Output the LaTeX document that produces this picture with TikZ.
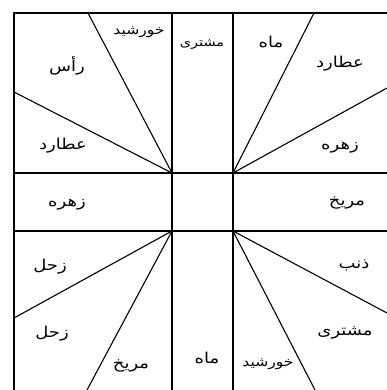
\documentclass[tikz,border=0pt]{standalone}
\usepackage{fontspec}
\newfontfamily\arabicfont[Script=Arabic, FakeStretch=1.2]{DejaVu Sans}
\TeXXeTstate=1
\newcommand\fatext[1]{\beginR #1\endR}
\begin{document}
\begin{tikzpicture}[x=1pt,y=-1pt,
  grid/.style={line width=1.4pt, black},
  ray/.style={line width=1.1pt, black},
  lbl/.style={font=\arabicfont\fontsize{15}{17}\selectfont, inner sep=0pt},
  small/.style={font=\arabicfont\fontsize{12}{14}\selectfont, inner sep=0pt},
  mid/.style={font=\arabicfont\fontsize{13}{15}\selectfont, inner sep=0pt}]
\useasboundingbox (0,0) rectangle (387,390);
% grid
\coordinate (TL) at (14,13);
\coordinate (TR) at (387,13);
\coordinate (BL) at (14,390);
\coordinate (C1) at (172,173);
\coordinate (C2) at (233,173);
\coordinate (C3) at (172,231);
\coordinate (C4) at (233,231);
\draw[grid] (BL) -- (TL) -- (TR);
\draw[grid] (172,13) -- (172,390);
\draw[grid] (233,13) -- (233,390);
\draw[grid] (14,173) -- (387,173);
\draw[grid] (14,231) -- (387,231);
% rays
\coordinate (r1) at (88,13);
\coordinate (r2) at (14,92);
\coordinate (r3) at (314,13);
\coordinate (r4) at (387,88);
\coordinate (r5) at (14,318);
\coordinate (r6) at (87,390);
\coordinate (r7) at (387,313);
\coordinate (r8) at (315,390);
\draw[ray] (C1) -- (r1);
\draw[ray] (C1) -- (r2);
\draw[ray] (C2) -- (r3);
\draw[ray] (C2) -- (r4);
\draw[ray] (C3) -- (r5);
\draw[ray] (C3) -- (r6);
\draw[ray] (C4) -- (r7);
\draw[ray] (C4) -- (r8);
% labels
\node[mid] (n1) at (139,32) {\fatext{خورشید}};
\node[lbl] (n2) at (67,66) {\fatext{رأس}};
\node[lbl] (n3) at (63,146) {\fatext{عطارد}};
\node[small] (n4) at (202,44) {\fatext{مشتری}};
\node[lbl] (n5) at (271,42) {\fatext{ماه}};
\node[lbl] (n6) at (340,64) {\fatext{عطارد}};
\node[lbl] (n7) at (340,148) {\fatext{زهره}};
\node[lbl] (n8) at (67,205) {\fatext{زهره}};
\node[lbl] (n9) at (347,203) {\fatext{مریخ}};
\node[lbl] (n10) at (50,267) {\fatext{زحل}};
\node[lbl] (n11) at (52,334) {\fatext{زحل}};
\node[lbl] (n12) at (131,366) {\fatext{مریخ}};
\node[lbl] (n13) at (207,358) {\fatext{ماه}};
\node[lbl] (n14) at (354,265) {\fatext{ذنب}};
\node[lbl] (n15) at (345,333) {\fatext{مشتری}};
\node[mid] (n16) at (268,364) {\fatext{خورشید}};
\end{tikzpicture}
\end{document}
